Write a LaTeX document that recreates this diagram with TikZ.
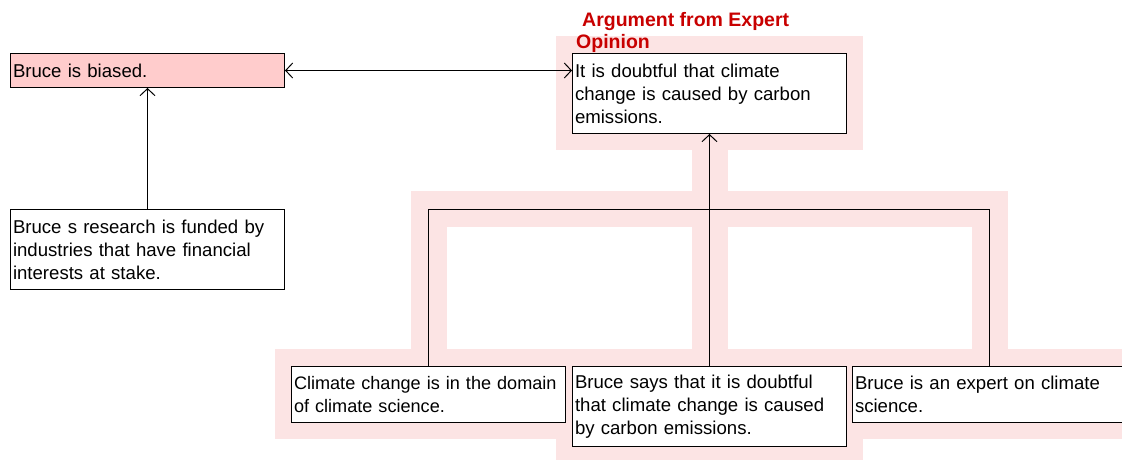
\documentclass[tikz,border=0pt]{standalone}
\usepackage{fontspec}
\setmainfont{Liberation Sans}
\usetikzlibrary{arrows.meta,calc,backgrounds}
\definecolor{hl}{HTML}{FCE4E4}
\definecolor{biasfill}{HTML}{FFCCCC}
\definecolor{schemered}{HTML}{C80000}
\begin{document}
\begin{tikzpicture}[x=1pt,y=-1pt,
  stmt/.style={draw=black, fill=white, line width=1pt, anchor=north west,
    text width=269pt, inner xsep=2.5pt, inner ysep=2pt, align=left,
    font=\fontsize{18.6}{23}\selectfont},
  barb/.tip={Straight Barb[length=7pt,width=15pt,line width=1pt]},
  link/.style={line width=0.9pt, -barb},
  twoway/.style={line width=0.9pt, barb-barb},
  joinline/.style={line width=0.9pt},
  band/.style={draw=hl, line width=36pt, line cap=rect}]
\useasboundingbox (0,0) rectangle (1122,459);

\node[stmt, fill=biasfill, minimum height=34pt] (biased) at (10,53) {Bruce is biased.};
\node[stmt, minimum height=80pt] (research) at (10,209)
  {Bruce s research is funded by\\industries that have financial\\interests at stake.};
\node[stmt, minimum height=80pt] (claim) at (572,53)
  {It is doubtful that climate\\change is caused by carbon\\emissions.};
\node[stmt, minimum height=56pt, font=\fontsize{18.1}{23}\selectfont] (p1) at (291,366)
  {\mbox{Climate change is in the domain}\\of climate science.};
\node[stmt, minimum height=80pt] (p2) at (572,366)
  {Bruce says that it is doubtful\\that climate change is caused\\by carbon emissions.};
\node[stmt, minimum height=56pt] (p3) at (852,366)
  {Bruce is an expert on climate\\science.};

\node[anchor=north west, inner sep=0pt, align=left, text=schemered,
  font=\bfseries\fontsize{19.5}{22.5}\selectfont] (scheme) at (576,12)
  {\hspace*{6pt}Argument from Expert\\Opinion};

\coordinate (jl) at (p1.north |- research.north);
\coordinate (jm) at (p2.north |- research.north);
\coordinate (jr) at (p3.north |- research.north);

\begin{scope}[on background layer]
  \foreach \n in {claim,p1,p2,p3}
    \fill[hl] ([xshift=-16pt,yshift=17pt]\n.north west) rectangle ([xshift=16pt,yshift=-16pt]\n.south east);
  \draw[band] (claim.south) -- (jm);
  \draw[band] (jl) -- (jr);
  \draw[band] (jl) -- (p1.north);
  \draw[band] (jm) -- (p2.north);
  \draw[band] (jr) -- (p3.north);
\end{scope}

\draw[joinline] (p1.north) -- (jl) -- (jr) -- (p3.north);
\draw[link] (p2.north) -- (claim.south);
\draw[link] (research.north) -- (biased.south);
\draw[twoway] (biased.east) -- (biased.east -| claim.west);
\end{tikzpicture}
\end{document}
